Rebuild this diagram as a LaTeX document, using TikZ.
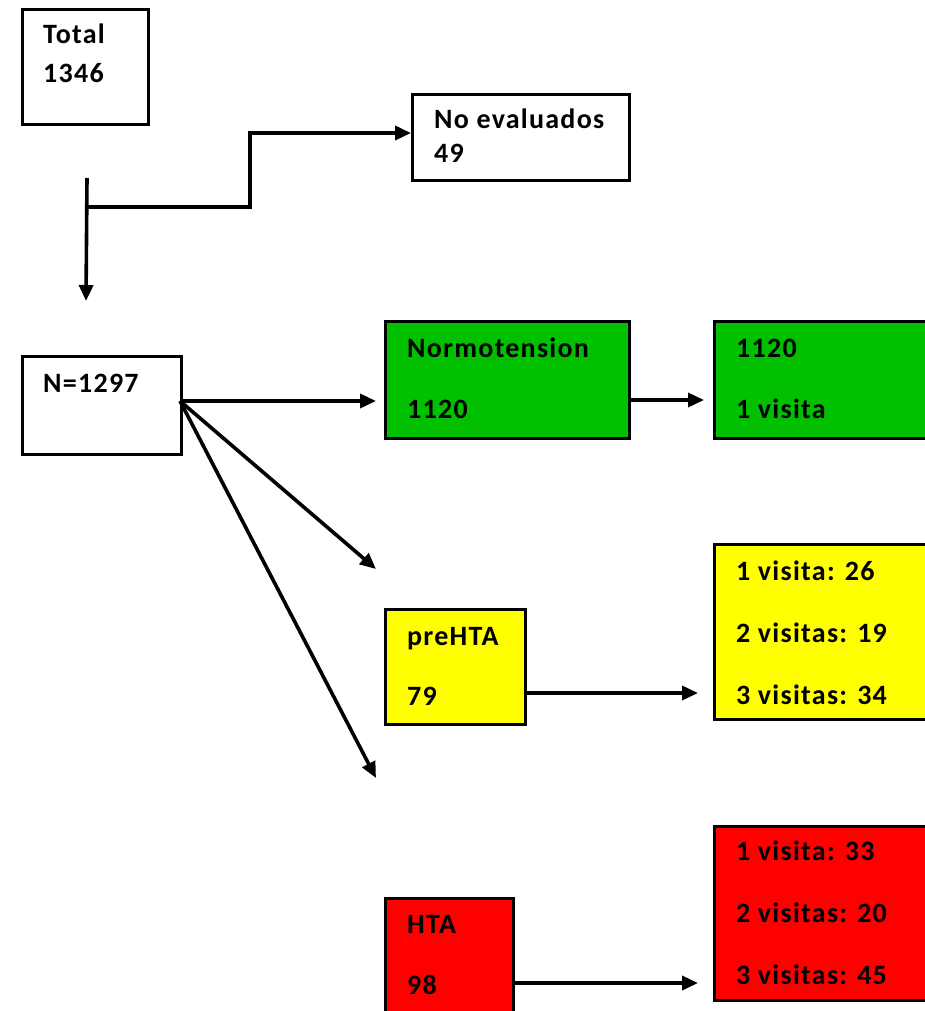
\documentclass[tikz,border=0pt]{standalone}
\usepackage{fontspec}
\setmainfont{Carlito}[LetterSpace=4.5]
\usetikzlibrary{arrows.meta}
\definecolor{cgreen}{RGB}{0,192,0}
\definecolor{cyellow}{RGB}{255,255,0}
\definecolor{cred}{RGB}{255,0,0}
\tikzset{
  box/.style={draw=black, line width=3.2pt, anchor=north west, inner sep=0pt},
  txt/.style={anchor=base west, inner sep=0pt, font=\fontsize{28}{34}\selectfont\bfseries},
  arr/.style={line width=3.6pt, -{Triangle[length=16pt,width=14pt]}}
}
\begin{document}
\begin{tikzpicture}[x=1pt,y=-1pt]
\useasboundingbox (0,0) rectangle (925,1011);
\clip (0,0) rectangle (925,1011);
% boxes
\node[box, minimum width=126pt, minimum height=115pt] (total) at (21,8) {};
\node[box, minimum width=217pt, minimum height=86pt] (ne) at (411,93) {};
\node[box, minimum width=159pt, minimum height=98pt] (n) at (21,355) {};
\node[box, fill=cgreen, minimum width=244pt, minimum height=117pt] (norm) at (384,320) {};
\node[box, fill=cgreen, minimum width=230pt, minimum height=117pt] (normv) at (713,320) {};
\node[box, fill=cyellow, minimum width=140pt, minimum height=115pt] (pre) at (384,608) {};
\node[box, fill=cyellow, minimum width=230pt, minimum height=175pt] (prev) at (713,543) {};
\node[box, fill=cred, minimum width=128pt, minimum height=130pt] (hta) at (384,897) {};
\node[box, fill=cred, minimum width=230pt, minimum height=174pt] (htav) at (713,825) {};
% texts
\node[txt] (t1) at (43,44) {Total};
\node[txt] (t2) at (43,83) {1346};
\node[txt] (t3) at (434,129) {No evaluados};
\node[txt] (t4) at (434,163) {49};
\node[txt] (t5) at (43,392) {N=1297};
\node[txt] (t6) at (407,357) {Normotension};
\node[txt] (t7) at (407,418) {1120};
\node[txt] (t8) at (736,357) {1120};
\node[txt] (t9) at (736,418) {1 visita};
\node[txt] (t10) at (407,645) {preHTA};
\node[txt] (t11) at (407,705) {79};
\node[txt] (t12) at (736,580) {1 visita: 26};
\node[txt] (t13) at (736,642) {2 visitas: 19};
\node[txt] (t14) at (736,704) {3 visitas: 34};
\node[txt] (t15) at (407,933) {HTA};
\node[txt] (t16) at (407,994) {98};
\node[txt] (t17) at (736,860) {1 visita: 33};
\node[txt] (t18) at (736,922) {2 visitas: 20};
\node[txt] (t19) at (736,984) {3 visitas: 45};
% connector coordinates
\coordinate (s) at (87,178);
\coordinate (sd) at (86,301);
\coordinate (j) at (87,207);
\coordinate (k1) at (250,207);
\coordinate (k2) at (250,133);
\coordinate (no) at (180,401);
\coordinate (e1) at (376,401);
\coordinate (e2) at (376,569);
\coordinate (e3) at (376,778);
\coordinate (a1) at (628,400);
\coordinate (b1) at (704,400);
\coordinate (a2) at (524,693);
\coordinate (b2) at (698,693);
\coordinate (a3) at (512,983);
\coordinate (b3) at (698,983);
% connectors
\draw[arr] (s) -- (sd);
\draw[arr] (j) -- (k1) -- (k2) -- (k2 -| ne.west);
\draw[arr] (no) -- (e1);
\draw[arr] (no) -- (e2);
\draw[arr] (no) -- (e3);
\draw[arr] (a1) -- (b1);
\draw[arr] (a2) -- (b2);
\draw[arr] (a3) -- (b3);
\end{tikzpicture}
\end{document}
